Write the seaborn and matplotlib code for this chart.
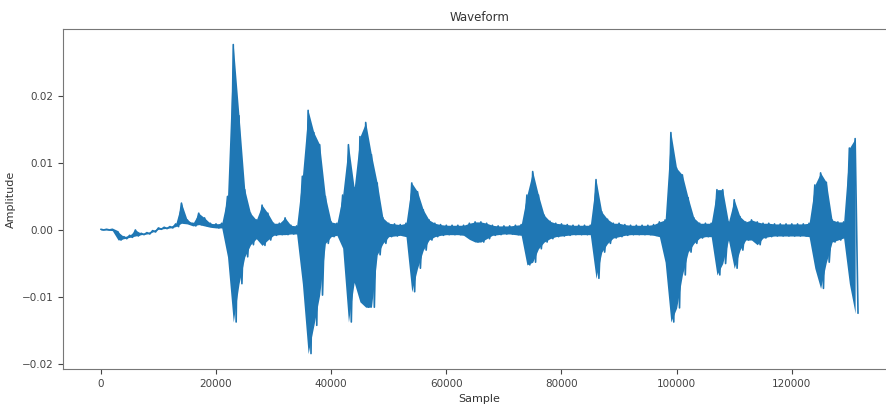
import numpy as np
import pandas as pd
import matplotlib
matplotlib.use("Agg")
import matplotlib.pyplot as plt
import seaborn as sns

# Waveform read off the picture as a min/max envelope, one bin per 1000 samples
# (values in units of 1e-3)
bin_size = 1000
wave_max = [
    0.1, 0.1, 0.1, -0.3, -1.0, -0.8, 0.0, -0.5, -0.4, -0.1,
    0.3, 0.4, 0.5, 0.9, 4.0, 1.5, 1.0, 2.5, 1.8, 1.0,
    0.9, 1.0, 5.0, 27.6, 17.0, 6.0, 2.5, 1.5, 3.7, 2.5,
    1.0, 1.0, 1.8, 0.7, 0.6, 8.0, 17.8, 14.5, 12.7, 5.0,
    1.2, 1.0, 5.2, 12.7, 6.3, 13.9, 16.0, 11.2, 7.0, 1.8,
    1.0, 0.9, 0.8, 1.0, 7.0, 5.7, 3.0, 1.5, 1.0, 0.8,
    0.7, 0.7, 0.7, 0.7, 1.0, 1.2, 1.2, 1.0, 0.7, 0.6,
    0.6, 0.6, 0.7, 0.8, 5.2, 8.7, 5.2, 2.2, 1.3, 1.0,
    0.9, 0.8, 0.7, 0.7, 0.7, 0.7, 7.5, 2.7, 1.6, 1.0,
    1.0, 0.8, 0.7, 0.7, 0.7, 0.7, 0.8, 1.2, 1.5, 14.5,
    9.2, 8.2, 4.8, 1.8, 1.0, 1.0, 1.0, 6.0, 6.0, 1.2,
    4.5, 2.0, 1.2, 1.5, 1.2, 1.0, 1.0, 0.9, 0.9, 0.9,
    0.9, 0.9, 0.9, 1.0, 6.7, 8.5, 7.1, 1.5, 1.2, 1.2,
    12.2, 13.6,
]
wave_min = [
    0.0, 0.0, -0.1, -1.5, -1.3, -1.1, -0.9, -0.7, -0.6, -0.3,
    0.1, 0.2, 0.3, 0.5, 1.0, 0.9, 0.6, 0.8, 0.6, 0.4,
    0.3, 0.3, -4.0, -13.7, -8.0, -4.0, -2.2, -1.3, -2.3, -1.5,
    -0.8, -0.7, -0.7, -0.6, -0.6, -8.0, -18.4, -14.2, -9.7, -2.0,
    -1.0, -0.8, -2.7, -13.7, -7.8, -10.7, -11.5, -11.5, -3.7, -2.0,
    -1.0, -0.9, -0.8, -1.0, -9.2, -5.7, -3.0, -1.5, -1.0, -0.8,
    -0.7, -0.7, -0.7, -0.8, -1.4, -1.8, -1.8, -1.3, -0.8, -0.7,
    -0.6, -0.6, -0.7, -0.8, -5.2, -4.8, -2.8, -1.8, -1.3, -1.0,
    -0.9, -0.8, -0.7, -0.7, -0.7, -0.7, -7.2, -3.3, -2.0, -1.2,
    -1.0, -0.8, -0.7, -0.7, -0.7, -0.7, -0.8, -1.0, -4.8, -13.7,
    -11.6, -6.7, -3.3, -2.0, -1.2, -1.0, -1.0, -6.7, -5.0, -1.5,
    -5.7, -3.0, -1.5, -1.5, -2.2, -1.2, -1.0, -0.9, -0.9, -0.9,
    -0.9, -0.9, -0.9, -1.0, -5.7, -8.7, -4.8, -1.8, -1.5, -1.2,
    -8.0, -12.4,
]

color = "#1f77b4"

# each bin: peak at its start, trough half a bin later
bins = np.arange(len(wave_max)) * bin_size
samples = np.column_stack([bins, bins + bin_size // 2]).ravel()
amplitude = np.column_stack([wave_max, wave_min]).ravel() * 1e-3
df = pd.DataFrame({"Sample": samples, "Amplitude": amplitude})

sns.set_style("ticks")
plt.rcParams["font.family"] = ["DejaVu Sans"]

fig = plt.figure(figsize=(8.87, 4.08), dpi=100)
ax = fig.add_axes([0.071, 0.0956, 0.939, 0.833])

# solid body of the waveform between the envelopes, spiky line on top
ax.fill_between(bins, np.array(wave_min) * 1e-3, np.array(wave_max) * 1e-3,
                color=color, linewidth=0)
sns.lineplot(data=df, x="Sample", y="Amplitude", ax=ax, color=color,
             linewidth=1.2, estimator=None, sort=False)

ax.set_title("Waveform", fontsize=8.5, color="#333333")
ax.set_xlabel("Sample", fontsize=8, color="#333333")
ax.set_ylabel("Amplitude", fontsize=8, color="#333333")
ax.set_yticks([-0.02, -0.01, 0.0, 0.01, 0.02])
ax.set_xticks([0, 20000, 40000, 60000, 80000, 100000, 120000])
ax.tick_params(labelsize=7.5, colors="#444444")
for sp in ax.spines.values():
    sp.set_color("#777777")
ax.spines["right"].set_visible(False)

fig.savefig("out.png", dpi=100)
